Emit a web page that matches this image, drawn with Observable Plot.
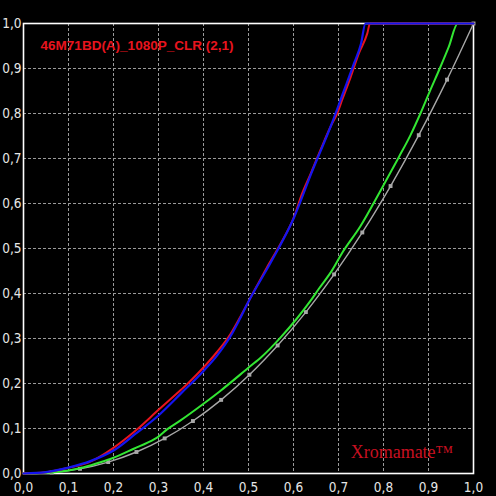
<!DOCTYPE html>
<html>
<head>
<meta charset="utf-8">
<script src="https://cdn.jsdelivr.net/npm/d3@7"></script>
<script src="https://cdn.jsdelivr.net/npm/@observablehq/plot@0.6"></script>
<style>
  html, body { margin: 0; padding: 0; background: #000; overflow: hidden; }
  #chart { width: 496px; height: 496px; }
</style>
</head>
<body>
<div id="chart"></div>
<script>
const ticks = [0, 0.1, 0.2, 0.3, 0.4, 0.5, 0.6, 0.7, 0.8, 0.9, 1.0];
const gridTicks = [0.1, 0.2, 0.3, 0.4, 0.5, 0.6, 0.7, 0.8, 0.9];

// reference (target) curve, read at its markers
const refX = [0, 0.0627, 0.1255, 0.1882, 0.2510, 0.3137, 0.3765, 0.4392, 0.5020, 0.5647, 0.6275, 0.6902, 0.7529, 0.8157, 0.8784, 0.9412, 1.0];
const refY = [0, 0.0023, 0.0104, 0.0254, 0.0478, 0.0780, 0.1166, 0.1636, 0.2195, 0.2845, 0.3587, 0.4424, 0.5356, 0.6388, 0.7518, 0.8752, 1.0];

const greenX = [0, 0.0627, 0.1, 0.134, 0.171, 0.2, 0.245, 0.29, 0.3, 0.319, 0.349, 0.4, 0.438, 0.501, 0.53, 0.571, 0.608, 0.638, 0.656, 0.686, 0.708, 0.749, 0.793, 0.834, 0.86, 0.882, 0.904, 0.925, 0.945, 0.965, 1.0];
const greenY = [0, 0.002, 0.0067, 0.014, 0.025, 0.035, 0.055, 0.076, 0.082, 0.098, 0.118, 0.155, 0.184, 0.236, 0.26, 0.302, 0.345, 0.384, 0.41, 0.452, 0.49, 0.55, 0.628, 0.703, 0.752, 0.8, 0.852, 0.9, 0.948, 1.0, 1.0];

const redX = [0, 0.05, 0.1, 0.15, 0.2, 0.25, 0.3, 0.35, 0.364, 0.404, 0.43, 0.46, 0.48, 0.501, 0.541, 0.571, 0.601, 0.619, 0.638, 0.66, 0.682, 0.697, 0.708, 0.727, 0.745, 0.764, 0.77, 1.0];
const redY = [0, 0.003, 0.0126, 0.027, 0.057, 0.096, 0.1415, 0.186, 0.199, 0.24, 0.27, 0.31, 0.345, 0.384, 0.458, 0.51, 0.57, 0.622, 0.666, 0.719, 0.77, 0.8, 0.83, 0.881, 0.933, 0.978, 1.0, 1.0];

const blueX = [0, 0.05, 0.1, 0.15, 0.2, 0.25, 0.3, 0.35, 0.4, 0.43, 0.46, 0.48, 0.5, 0.55, 0.6, 0.64, 0.686, 0.71, 0.734, 0.75, 0.76, 1.0];
const blueY = [0, 0.003, 0.013, 0.028, 0.051, 0.089, 0.129, 0.178, 0.228, 0.262, 0.305, 0.342, 0.382, 0.47, 0.566, 0.668, 0.78, 0.845, 0.91, 0.955, 1.0, 1.0];

const titleText = "46M71BD(A)_1080P_CLR (2,1)";
const brandText = "Xromamate\u2122";

const toRows = (xs, ys) => xs.map((x, i) => ({x, y: ys[i]}));
const ref = toRows(refX, refY);
const green = toRows(greenX, greenY);
const red = toRows(redX, redY);
const blue = toRows(blueX, blueY);

const fmt = d => d.toFixed(1).replace(".", ",");
const tickFont = "'DejaVu Sans Condensed', 'Liberation Sans Narrow', 'Arial Narrow', sans-serif";

const chart = Plot.plot({
  width: 496,
  height: 496,
  marginLeft: 23,
  marginRight: 23,
  marginTop: 23,
  marginBottom: 23,
  style: {background: "#000", color: "#e6e6e6", fontFamily: tickFont},
  x: {domain: [0, 1], label: null},
  y: {domain: [0, 1], label: null},
  marks: [
    Plot.gridX(gridTicks, {stroke: "#9a9a9a", strokeOpacity: 1, strokeWidth: 1, strokeDasharray: "3,2"}),
    Plot.gridY(gridTicks, {stroke: "#9a9a9a", strokeOpacity: 1, strokeWidth: 1, strokeDasharray: "3,2"}),
    Plot.axisX(ticks, {tickSize: 0, tickPadding: 9, tickFormat: fmt, fontSize: 13.5, fill: "#e6e6e6", label: null, fontStretch: "condensed"}),
    Plot.axisY(ticks, {tickSize: 0, tickPadding: 2, tickFormat: fmt, fontSize: 13.5, fill: "#e6e6e6", label: null, fontStretch: "condensed"}),
    Plot.frame({stroke: "#ffffff", strokeWidth: 1.6}),
    Plot.line(ref, {x: "x", y: "y", stroke: "#a8a8a8", strokeWidth: 1.4, curve: "catmull-rom"}),
    Plot.dot(ref.slice(1), {x: "x", y: "y", symbol: "square", r: 2.2, fill: "#a8a8a8", stroke: "none"}),
    Plot.line(green, {x: "x", y: "y", stroke: "#33e633", strokeWidth: 2, curve: "monotone-x"}),
    Plot.line(red, {x: "x", y: "y", stroke: "#e8141e", strokeWidth: 2, curve: "monotone-x"}),
    Plot.line(blue, {x: "x", y: "y", stroke: "#1414f0", strokeWidth: 2.2, curve: "monotone-x"}),
    Plot.text([titleText], {x: 0.038, y: 0.95, text: d => d, textAnchor: "start", fill: "#e8141e", fontSize: 13.5, fontWeight: "bold", fontFamily: "'Liberation Sans', Arial, sans-serif"}),
    Plot.text([brandText], {x: 0.727, y: 0.047, text: d => d, textAnchor: "start", fill: "#c81020", fontSize: 18, fontFamily: "'Liberation Serif', 'Times New Roman', serif"})
  ]
});
document.getElementById("chart").appendChild(chart);
</script>
</body>
</html>
